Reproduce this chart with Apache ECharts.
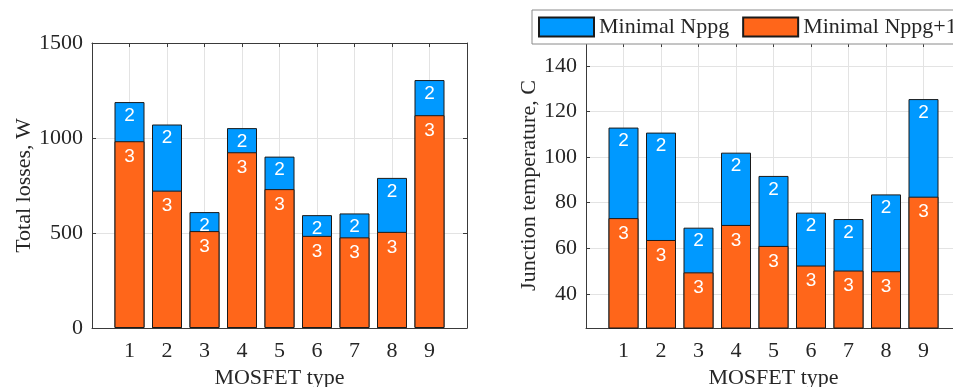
<!DOCTYPE html>
<html>
<head>
<meta charset="utf-8">
<script src="https://cdn.jsdelivr.net/npm/echarts@6/dist/echarts.min.js"></script>
<style>
  html, body { margin: 0; padding: 0; background: #ffffff; }
  #chart { width: 953px; height: 387px; }
</style>
</head>
<body>
<div id="chart"></div>
<script>
// MOSFET comparison: total losses and junction temperature
const mosfetTypes = [1, 2, 3, 4, 5, 6, 7, 8, 9];
const seriesNames = ['Minimal Nppg', 'Minimal Nppg+1'];
const barTags = ['2', '3'];

const lossesNppg      = [1189, 1071, 610, 1052, 902, 594, 603, 790, 1305];
const lossesNppgPlus1 = [983, 723, 510, 925, 731, 485, 477, 506, 1120];

const tempNppg      = [112.9, 110.7, 69.0, 101.9, 91.7, 75.6, 72.8, 83.6, 125.4];
const tempNppgPlus1 = [73.2, 63.6, 49.4, 70.2, 61.0, 52.4, 50.2, 49.9, 82.6];

const lossTicks = [0, 500, 1000, 1500];
const tempTicks = [40, 60, 80, 100, 120, 140];

const SERIF = 'Liberation Serif';
const AXIS_COLOR = '#3a3a3a';
const TEXT_COLOR = '#262626';
const GRID_COLOR = '#e3e3e3';
const BLUE = '#0099ff';
const ORANGE = '#ff661a';
const FONT = 22;
const AXIS_LINE = { show: true, onZero: false, lineStyle: { color: AXIS_COLOR, width: 1 } };
const TICK = { show: true, inside: true, length: 4, lineStyle: { color: AXIS_COLOR, width: 1 } };

function pairs(values) {
  return mosfetTypes.map((t, i) => [t, values[i]]);
}

// Bottom axis with labels plus a bare top axis that closes the box
function xAxes(gridIndex) {
  const base = {
    type: 'value', gridIndex, min: 0, max: 10, interval: 1,
    axisLine: AXIS_LINE,
    axisTick: TICK
  };
  return [
    Object.assign({}, base, {
      position: 'bottom',
      name: 'MOSFET type', nameLocation: 'middle', nameGap: 38,
      nameTextStyle: { fontFamily: SERIF, fontSize: FONT, color: TEXT_COLOR },
      axisLabel: {
        margin: 12, fontFamily: SERIF, fontSize: FONT, color: TEXT_COLOR,
        formatter: v => (mosfetTypes.indexOf(v) >= 0 ? String(v) : '')
      },
      splitLine: { show: true, lineStyle: { color: GRID_COLOR, width: 1 } }
    }),
    Object.assign({}, base, {
      position: 'top',
      axisLabel: { show: false },
      splitLine: { show: false }
    })
  ];
}

// Left axis with labels plus a bare right axis that closes the box
function yAxes(gridIndex, min, max, ticks, title, nameGap) {
  const base = {
    type: 'value', gridIndex, min, max,
    axisLine: AXIS_LINE,
    axisTick: Object.assign({ customValues: ticks }, TICK)
  };
  return [
    Object.assign({}, base, {
      position: 'left',
      name: title, nameLocation: 'middle', nameGap,
      nameTextStyle: { fontFamily: SERIF, fontSize: FONT, color: TEXT_COLOR },
      axisLabel: {
        margin: 9, fontFamily: SERIF, fontSize: FONT, color: TEXT_COLOR,
        customValues: ticks, formatter: v => String(v)
      },
      splitLine: { show: true, lineStyle: { color: GRID_COLOR, width: 1 } }
    }),
    Object.assign({}, base, {
      position: 'right',
      axisLabel: { show: false, customValues: ticks },
      splitLine: { show: false }
    })
  ];
}

function barSeries(name, values, axisIdx, tag, color, z, dist) {
  return {
    type: 'bar', name, z,
    xAxisIndex: axisIdx, yAxisIndex: axisIdx,
    data: pairs(values),
    barWidth: 30, barGap: '-100%',
    itemStyle: { color, borderColor: '#1a1a1a', borderWidth: 1 },
    label: {
      show: true, position: 'insideTop', distance: dist,
      formatter: () => tag,
      color: '#ffffff', fontFamily: 'Liberation Sans', fontSize: 19
    },
    emphasis: { disabled: true },
    animation: false
  };
}

const chart = echarts.init(document.getElementById('chart'), null, { renderer: 'canvas' });

chart.setOption({
  backgroundColor: '#ffffff',
  animation: false,
  legend: {
    data: seriesNames,
    left: 532, top: 10, width: 480,
    orient: 'horizontal',
    padding: [6, 6],
    itemWidth: 55, itemHeight: 19, itemGap: 13,
    icon: 'rect',
    backgroundColor: '#ffffff',
    borderColor: '#8a8a8a', borderWidth: 1,
    textStyle: { fontFamily: SERIF, fontSize: 22, color: TEXT_COLOR },
    selectedMode: false
  },
  grid: [
    { left: 92, top: 43, width: 375, height: 285, outerBoundsMode: 'none', containLabel: false },
    { left: 586, top: 43, width: 375, height: 285, outerBoundsMode: 'none', containLabel: false }
  ],
  xAxis: [...xAxes(0), ...xAxes(1)],
  yAxis: [
    ...yAxes(0, 0, 1500, lossTicks, 'Total losses, W', 53),
    ...yAxes(1, 25, 150, tempTicks, 'Junction temperature, C', 46)
  ],
  series: [
    barSeries(seriesNames[0], lossesNppg, 0, barTags[0], BLUE, 2, 4),
    barSeries(seriesNames[1], lossesNppgPlus1, 0, barTags[1], ORANGE, 3, 6),
    barSeries(seriesNames[0], tempNppg, 2, barTags[0], BLUE, 2, 4),
    barSeries(seriesNames[1], tempNppgPlus1, 2, barTags[1], ORANGE, 3, 6)
  ]
});
</script>
</body>
</html>
